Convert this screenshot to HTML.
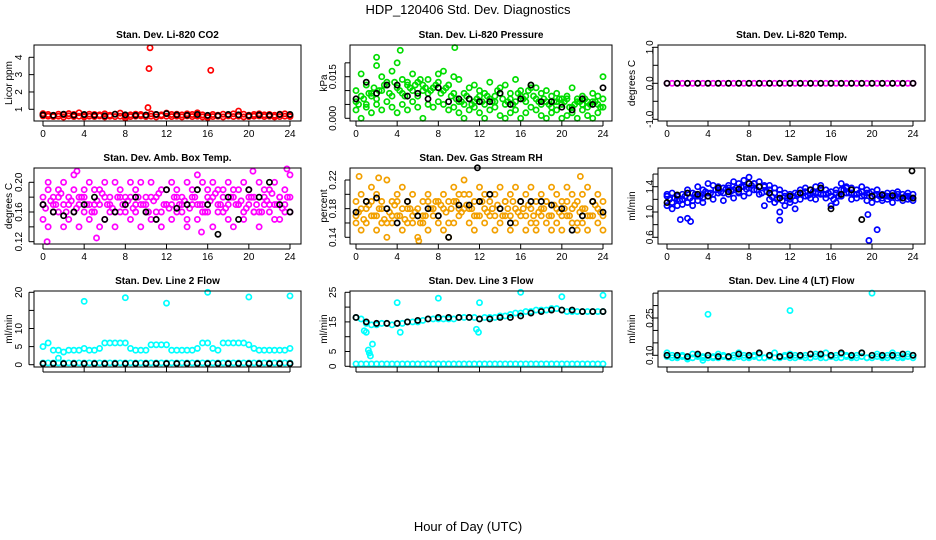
<!DOCTYPE html>
<html><head><meta charset="utf-8"><style>
html,body{margin:0;padding:0;background:#fff;}
svg{display:block;font-family:"Liberation Sans",sans-serif;}
</style></head><body>
<svg id="c" width="936" height="540" viewBox="0 0 936 540">
<text x="468" y="14" text-anchor="middle" font-size="13">HDP_120406  Std. Dev. Diagnostics</text>
<text x="468" y="531" text-anchor="middle" font-size="13">Hour of Day (UTC)</text>
</svg>
<script>
const hours49=[0,0.5,1,1.5,2,2.5,3,3.5,4,4.5,5,5.5,6,6.5,7,7.5,8,8.5,9,9.5,10,10.5,11,11.5,12,12.5,13,13.5,14,14.5,15,15.5,16,16.5,17,17.5,18,18.5,19,19.5,20,20.5,21,21.5,22,22.5,23,23.5,24];
const hours25=[0,1,2,3,4,5,6,7,8,9,10,11,12,13,14,15,16,17,18,19,20,21,22,23,24];
const hoursQ=[0.25,0.75,1.25,1.75,2.25,2.75,3.25,3.75,4.25,4.75,5.25,5.75,6.25,6.75,7.25,7.75,8.25,8.75,9.25,9.75,10.25,10.75,11.25,11.75,12.25,12.75,13.25,13.75,14.25,14.75,15.25,15.75,16.25,16.75,17.25,17.75,18.25,18.75,19.25,19.75,20.25,20.75,21.25,21.75,22.25,22.75,23.25,23.75];
const xTicks=[0,4,8,12,16,20,24];

// Panel 1 CO2
const co2RedA=[0.75,0.7,0.65,0.72,0.68,0.75,0.7,0.8,0.66,0.72,0.7,0.68,0.74,0.66,0.72,0.78,0.6,0.68,0.72,0.7,0.66,0.74,0.7,0.68,0.78,0.7,0.72,0.68,0.74,0.7,0.8,0.68,0.6,0.7,0.66,0.72,0.68,0.74,0.9,0.72,0.66,0.7,0.74,0.68,0.7,0.66,0.72,0.74,0.62];
const co2RedB=[0.62,0.6,0.58,0.6,0.55,0.62,0.58,0.6,0.56,0.6,0.58,0.62,0.56,0.6,0.58,0.6,0.5,0.58,0.6,0.62,0.58,0.6,0.56,0.62,0.6,0.58,0.6,0.56,0.62,0.58,0.6,0.56,0.52,0.58,0.6,0.56,0.62,0.58,0.6,0.56,0.58,0.6,0.62,0.58,0.6,0.56,0.58,0.6,0.58];
const co2OutX=[10.4,10.3,16.3,10.2];
const co2OutY=[4.55,3.35,3.25,1.1];
const co2Black=[0.68,0.65,0.72,0.66,0.7,0.65,0.62,0.72,0.68,0.65,0.67,0.7,0.75,0.68,0.66,0.7,0.65,0.64,0.7,0.68,0.64,0.68,0.66,0.7,0.7];

// Panel 2 Pressure
const presA=[0.006,0.008,0.005,0.009,0.007,0.010,0.012,0.008,0.011,0.009,0.013,0.010,0.008,0.012,0.009,0.011,0.013,0.010,0.012,0.009,0.006,0.005,0.007,0.006,0.008,0.005,0.007,0.006,0.009,0.005,0.007,0.006,0.008,0.006,0.011,0.007,0.005,0.006,0.004,0.006,0.005,0.007,0.004,0.006,0.005,0.004,0.006,0.005,0.007];
const presB=[0.010,0.016,0.012,0.008,0.019,0.015,0.013,0.017,0.020,0.014,0.012,0.016,0.013,0.010,0.014,0.011,0.016,0.017,0.012,0.015,0.014,0.009,0.011,0.012,0.010,0.009,0.013,0.008,0.011,0.012,0.009,0.014,0.010,0.008,0.012,0.011,0.009,0.010,0.008,0.009,0.007,0.008,0.011,0.007,0.008,0.006,0.009,0.008,0.015];
const presC=[0.003,0.000,0.004,0.002,0.005,0.003,0.006,0.004,0.002,0.005,0.003,0.006,0.004,0.000,0.005,0.004,0.006,0.005,0.003,0.004,0.002,0.000,0.003,0.004,0.002,0.000,0.003,0.004,0.001,0.000,0.002,0.003,0.000,0.002,0.004,0.003,0.001,0.000,0.002,0.003,0.000,0.001,0.002,0.000,0.003,0.001,0.000,0.002,0.004];
const presD=[0.005,0.007,0.009,0.011,0.010,0.012,0.009,0.013,0.010,0.008,0.011,0.012,0.014,0.011,0.010,0.012,0.009,0.011,0.008,0.007,0.006,0.008,0.005,0.007,0.006,0.008,0.006,0.010,0.007,0.006,0.005,0.009,0.007,0.010,0.008,0.006,0.007,0.005,0.006,0.007,0.006,0.004,0.005,0.006,0.007,0.005,0.006,0.004];
const presOutX=[9.6,4.3,2.0];
const presOutY=[0.0255,0.0245,0.022];
const presBlack=[0.007,0.013,0.009,0.012,0.012,0.008,0.009,0.007,0.011,0.006,0.007,0.007,0.006,0.006,0.009,0.005,0.007,0.012,0.006,0.006,0.004,0.003,0.007,0.005,0.011];

// Panel 3 Temp
const tempMag=[0,0,0,0,0,0,0,0,0,0,0,0,0,0,0,0,0,0,0,0,0,0,0,0,0,0,0,0,0,0,0,0,0,0,0,0,0,0,0,0,0,0,0,0,0,0,0,0,0];
const tempBlack=[0,0,0,0,0,0,0,0,0,0,0,0,0,0,0,0,0,0,0,0,0,0,0,0,0];

// Panel 4 Amb box temp
const ambA=[0.17,0.19,0.16,0.18,0.17,0.15,0.19,0.18,0.16,0.17,0.19,0.17,0.15,0.18,0.16,0.19,0.17,0.18,0.16,0.20,0.17,0.15,0.18,0.16,0.19,0.17,0.16,0.18,0.15,0.19,0.17,0.20,0.16,0.18,0.17,0.19,0.15,0.18,0.17,0.16,0.19,0.18,0.16,0.17,0.19,0.15,0.18,0.17,0.18];
const ambB=[0.15,0.14,0.18,0.16,0.14,0.18,0.16,0.14,0.19,0.15,0.17,0.14,0.18,0.16,0.14,0.16,0.18,0.15,0.17,0.14,0.16,0.18,0.15,0.14,0.17,0.15,0.18,0.16,0.14,0.17,0.15,0.16,0.18,0.14,0.19,0.16,0.17,0.14,0.19,0.15,0.17,0.16,0.14,0.18,0.16,0.17,0.15,0.19,0.16];
const ambC=[0.18,0.20,0.17,0.19,0.20,0.17,0.21,0.17,0.18,0.20,0.16,0.19,0.20,0.17,0.20,0.18,0.16,0.20,0.19,0.17,0.18,0.20,0.16,0.19,0.17,0.20,0.19,0.17,0.20,0.18,0.21,0.17,0.19,0.20,0.16,0.18,0.20,0.19,0.17,0.20,0.18,0.16,0.20,0.19,0.17,0.20,0.18,0.16,0.21];
const ambD=[0.165,0.175,0.17,0.185,0.16,0.175,0.165,0.18,0.17,0.16,0.175,0.185,0.17,0.165,0.18,0.17,0.175,0.165,0.18,0.17,0.16,0.175,0.185,0.17,0.165,0.18,0.17,0.175,0.165,0.18,0.17,0.16,0.175,0.185,0.17,0.165,0.18,0.17,0.175,0.165,0.18,0.17,0.16,0.175,0.185,0.17,0.165,0.18];
const ambOutX=[0.4,5.2,3.3,20.4,23.7,15.4];
const ambOutY=[0.12,0.125,0.215,0.215,0.218,0.133];
const ambBlack=[0.17,0.16,0.155,0.16,0.17,0.18,0.15,0.16,0.17,0.18,0.16,0.15,0.19,0.165,0.17,0.19,0.17,0.13,0.18,0.15,0.19,0.18,0.20,0.17,0.16];

// Panel 5 Gas stream RH
const rhA=[0.17,0.18,0.16,0.19,0.17,0.18,0.16,0.17,0.19,0.18,0.16,0.17,0.18,0.17,0.19,0.18,0.17,0.18,0.16,0.19,0.18,0.20,0.18,0.17,0.19,0.18,0.20,0.17,0.18,0.19,0.17,0.18,0.19,0.17,0.18,0.16,0.18,0.19,0.17,0.18,0.17,0.19,0.18,0.16,0.18,0.17,0.19,0.18,0.17];
const rhB=[0.16,0.15,0.18,0.17,0.15,0.16,0.14,0.16,0.17,0.15,0.18,0.16,0.14,0.16,0.15,0.17,0.16,0.15,0.14,0.16,0.17,0.18,0.16,0.15,0.17,0.16,0.17,0.15,0.16,0.17,0.15,0.16,0.17,0.15,0.16,0.15,0.17,0.16,0.15,0.16,0.15,0.17,0.16,0.15,0.16,0.15,0.17,0.16,0.15];
const rhC=[0.19,0.20,0.19,0.21,0.20,0.19,0.22,0.19,0.20,0.21,0.19,0.20,0.17,0.19,0.20,0.18,0.19,0.20,0.19,0.21,0.20,0.22,0.20,0.19,0.21,0.20,0.19,0.20,0.21,0.19,0.20,0.21,0.19,0.20,0.21,0.19,0.20,0.19,0.21,0.20,0.19,0.21,0.20,0.19,0.20,0.21,0.19,0.20,0.19];
const rhD=[0.175,0.165,0.185,0.17,0.18,0.165,0.175,0.185,0.17,0.165,0.18,0.175,0.16,0.17,0.18,0.19,0.185,0.175,0.18,0.19,0.175,0.185,0.18,0.17,0.19,0.175,0.18,0.185,0.17,0.18,0.19,0.175,0.18,0.185,0.17,0.175,0.18,0.17,0.185,0.175,0.18,0.17,0.185,0.175,0.18,0.17,0.185,0.175];
const rhOutX=[0.3,6.1,21.8,2.2];
const rhOutY=[0.225,0.135,0.225,0.223];
const rhBlack=[0.175,0.19,0.195,0.18,0.16,0.19,0.17,0.18,0.17,0.14,0.185,0.185,0.19,0.20,0.18,0.16,0.19,0.19,0.19,0.185,0.18,0.15,0.17,0.19,0.175];
const rhBlackOutX=[11.8];
const rhBlackOutY=[0.237];

// Panel 6 Sample flow
const flowA=[1.25,1.15,1.10,1.20,1.15,1.18,1.25,1.22,1.30,1.28,1.35,1.30,1.38,1.35,1.32,1.40,1.38,1.45,1.40,1.42,1.35,1.30,1.28,1.25,1.20,1.18,1.30,1.32,1.28,1.30,1.35,1.28,1.25,1.30,1.35,1.38,1.30,1.28,1.32,1.35,1.25,1.28,1.22,1.25,1.24,1.28,1.22,1.25,1.22];
const flowB=[1.10,1.05,1.20,1.12,0.90,1.10,1.18,1.15,1.25,1.20,1.30,1.18,1.28,1.22,1.30,1.25,1.30,1.35,1.28,1.10,1.20,1.15,1.00,1.10,1.15,1.05,1.20,1.25,1.22,1.20,1.28,1.22,1.10,1.15,1.25,1.30,1.20,1.22,1.25,1.18,1.15,1.20,1.18,1.20,1.15,1.22,1.18,1.20,1.18];
const flowC=[1.28,1.30,1.25,1.28,1.35,1.30,1.40,1.35,1.45,1.42,1.40,1.38,1.42,1.48,1.45,1.50,1.55,1.45,1.48,1.40,1.42,1.38,1.35,1.30,1.28,1.30,1.35,1.38,1.35,1.40,1.42,1.35,1.32,1.35,1.45,1.40,1.38,1.35,1.40,1.30,1.32,1.35,1.28,1.30,1.30,1.32,1.28,1.30,1.28];
const flowD=[1.2,1.22,1.18,1.25,1.22,1.28,1.25,1.32,1.3,1.35,1.32,1.36,1.33,1.38,1.4,1.36,1.42,1.35,1.3,1.32,1.24,1.2,1.18,1.22,1.25,1.28,1.3,1.26,1.32,1.3,1.28,1.3,1.2,1.25,1.35,1.3,1.28,1.3,1.26,1.3,1.27,1.25,1.26,1.24,1.26,1.23,1.25,1.22];
const flowOutX=[1.3,2.3,19.7,20.5,19.6,11.0];
const flowOutY=[0.88,0.85,0.55,0.72,0.96,0.87];
const flowBlack=[1.15,1.27,1.30,1.28,1.25,1.38,1.32,1.36,1.45,1.40,1.30,1.22,1.25,1.30,1.35,1.38,1.05,1.28,1.35,0.88,1.25,1.27,1.26,1.22,1.22];
const flowBlackOutX=[23.9];
const flowBlackOutY=[1.65];

// Panel 7 Line 2 flow
const l2Band=[5,6,4,4,3.5,4,4,4,4.5,4,4,4.5,6,6,6,6,6,4.5,4,4,4,5.5,5.5,5.5,5.5,4,4,4,4,4,4.5,6,6,4.5,4,6,6,6,6,6,5.5,4.5,4,4,4,4,4,4,4.5];
const l2Zero=[0.5,0.5,0.5,0.5,0.5,0.5,0.5,0.5,0.5,0.5,0.5,0.5,0.5,0.5,0.5,0.5,0.5,0.5,0.5,0.5,0.5,0.5,0.5,0.5,0.5,0.5,0.5,0.5,0.5,0.5,0.5,0.5,0.5,0.5,0.5,0.5,0.5,0.5,0.5,0.5,0.5,0.5,0.5,0.5,0.5,0.5,0.5,0.5,0.5];
const l2OutX=[4,8,12,16,20,24,1.5];
const l2OutY=[17.5,18.5,17,20,18.7,19,1.8];
const l2Black=[0.3,0.3,0.3,0.3,0.3,0.3,0.3,0.3,0.3,0.3,0.3,0.3,0.3,0.3,0.3,0.3,0.3,0.3,0.3,0.3,0.3,0.3,0.3,0.3,0.3];

// Panel 8 Line 3 flow
const l3Band=[16.5,16,14.5,14,14,14.5,14.5,14,14.5,14.5,15,15,15,15.5,16,16,16,16,16,16,16.5,16.5,16.5,16.5,16,16.5,16.5,16.5,17,17,17.5,18,18,18.5,18.5,19,19,19,19.5,19.5,19,18.5,18.5,18.5,18.5,18.5,18.5,18.5,18.5];
const l3Zero=[0.8,0.8,0.8,0.8,0.8,0.8,0.8,0.8,0.8,0.8,0.8,0.8,0.8,0.8,0.8,0.8,0.8,0.8,0.8,0.8,0.8,0.8,0.8,0.8,0.8,0.8,0.8,0.8,0.8,0.8,0.8,0.8,0.8,0.8,0.8,0.8,0.8,0.8,0.8,0.8,0.8,0.8,0.8,0.8,0.8,0.8,0.8,0.8,0.8];
const l3OutX=[4,1.2,1.4,1.6,1.3,1.0,8,12,11.7,11.9,4.3,16,20,24,0.8];
const l3OutY=[21.5,5.5,3.5,7.5,4.5,11.5,23,21.5,12.5,11.5,11.5,25,23.5,24,12];
const l3Black=[16.5,15,14.5,14.5,14.5,15,15.5,16,16.5,16.5,16.5,16.5,16,16,16.5,16.5,17,18,18.5,19,19,19,18.5,18.5,18.5];

// Panel 9 Line 4 flow
const l4Band=[0.11,0.10,0.095,0.10,0.09,0.105,0.10,0.095,0.10,0.09,0.105,0.10,0.095,0.10,0.11,0.10,0.095,0.10,0.105,0.09,0.10,0.11,0.095,0.10,0.105,0.10,0.095,0.10,0.09,0.105,0.10,0.11,0.095,0.10,0.105,0.10,0.095,0.10,0.11,0.09,0.10,0.105,0.095,0.10,0.11,0.10,0.095,0.105,0.10];
const l4Low=[0.095,0.09,0.09,0.095,0.085,0.09,0.095,0.09,0.09,0.095,0.09,0.095,0.09,0.09,0.095,0.09,0.09,0.095,0.09,0.09,0.095,0.09,0.09,0.095,0.09,0.09,0.095,0.09,0.09,0.095,0.09,0.09,0.095,0.09,0.09,0.095,0.09,0.09,0.095,0.09,0.09,0.095,0.09,0.09,0.095,0.09,0.09,0.095,0.09];
const l4OutX=[4,12,20,3.5];
const l4OutY=[0.265,0.28,0.35,0.08];
const l4Black=[0.10,0.10,0.095,0.105,0.10,0.095,0.095,0.105,0.10,0.11,0.10,0.095,0.10,0.10,0.105,0.105,0.10,0.11,0.10,0.11,0.10,0.10,0.10,0.105,0.10];

const yTicks1=[1,2,3,4], yLab1=["1","2","3","4"];
const yTicks2=[0,0.005,0.01,0.015,0.02], yLab2=["0.000","","","0.015",""];
const yTicks3=[-1,-0.5,0,0.5,1], yLab3=["-1.0","","0.0","","1.0"];
const yTicks4=[0.12,0.14,0.16,0.18,0.2], yLab4=["0.12","","0.16","","0.20"];
const yTicks5=[0.14,0.16,0.18,0.2,0.22], yLab5=["0.14","","0.18","","0.22"];
const yTicks6=[0.6,0.8,1.0,1.2,1.4,1.6], yLab6=["0.6","","1.0","","1.4",""];
const yTicks7=[0,5,10,15,20], yLab7=["0","5","10","","20"];
const yTicks8=[0,5,10,15,20,25], yLab8=["0","5","","15","","25"];
const yTicks9=[0.1,0.15,0.2,0.25,0.3,0.35], yLab9=["0.10","","","0.25","",""];

const NS="http://www.w3.org/2000/svg";
const svg=document.getElementById('c');
function mk(tag,attrs,parent){const e=document.createElementNS(NS,tag);for(const k in attrs)e.setAttribute(k,attrs[k]);(parent||svg).appendChild(e);return e;}

const cols=[{bl:34,br:301,x0:43,x24:290,lab:18,tit:8},{bl:350,br:612,x0:356,x24:603,lab:332,tit:323},{bl:658,br:925,x0:667,x24:913,lab:649,tit:631}];
const rows=[{bt:45,bb:121},{bt:168,bb:244},{bt:291,bb:367}];

function panel(o){
  const c=cols[o.col], r=rows[o.row];
  const g=mk('g',{});
  
  
  const xs=v=>c.x0+(c.x24-c.x0)*v/24;
  const ys=v=>o.pA+(o.pB-o.pA)*(v-o.vA)/(o.vB-o.vA);
  const t=mk('text',{x:(c.bl+c.br)/2,y:r.bt-7,'text-anchor':'middle','font-size':'10','font-weight':'bold'},g);
  t.textContent=o.title;
  
  
  const yt=mk('text',{transform:`translate(${c.tit+4},${(r.bt+r.bb)/2}) rotate(-90)`,'text-anchor':'middle','font-size':'10'},g);
  yt.textContent=o.ylab;
  
  
  o.yt.forEach((v,i)=>{const y=ys(v);
    mk('line',{x1:c.bl-5,x2:c.bl,y1:y,y2:y,stroke:'#000','stroke-width':1},g);
    if(o.yl[i]){const l=mk('text',{transform:`translate(${c.lab+4},${y}) rotate(-90)`,'text-anchor':'middle','font-size':'10'},g);l.textContent=o.yl[i];
      
      }
  });
  mk('line',{x1:c.bl-5,x2:c.bl-5,y1:ys(o.yt[0]),y2:ys(o.yt[o.yt.length-1]),stroke:'#000'},g);
  xTicks.forEach(v=>{const x=xs(v);
    mk('line',{x1:x,x2:x,y1:r.bb,y2:r.bb+5,stroke:'#000'},g);
    if(o.row<2){const l=mk('text',{x:x,y:r.bb+16,'text-anchor':'middle','font-size':'10'},g);l.textContent=String(v);
      
      }
  });
  mk('line',{x1:xs(0),x2:xs(24),y1:r.bb+5,y2:r.bb+5,stroke:'#000'},g);
  const pts=mk('g',{fill:'none','stroke-width':1.7},g);
  
  
  o.series.forEach(s=>{
    s.y.forEach((v,i)=>{
      mk('circle',{cx:xs(s.x[i]),cy:ys(v),r:2.6,stroke:s.c},pts);});
  });
  const b=mk('rect',{x:c.bl,y:r.bt,width:c.br-c.bl,height:r.bb-r.bt,fill:'none',stroke:'#000','stroke-width':1},g);
  
  
}
const RED='#ff0000',GRN='#00dd00',MAG='#ff00ff',ORG='#f2a000',BLU='#0000ff',CYN='#00ffff',BLK='#000';
panel({name:'panel-co2',col:0,row:0,title:'Stan. Dev. Li-820 CO2',ylab:'Licor ppm',vA:1,pA:109.3,vB:4,pB:57.3,yt:yTicks1,yl:yLab1,
 series:[{x:hours49,y:co2RedA,c:RED},{x:hours49,y:co2RedB,c:RED},{x:co2OutX,y:co2OutY,c:RED},{x:hours25,y:co2Black,c:BLK}]});
panel({name:'panel-pressure',col:1,row:0,title:'Stan. Dev. Li-820 Pressure',ylab:'kPa',vA:0,pA:118.3,vB:0.015,pB:76.7,yt:yTicks2,yl:yLab2,
 series:[{x:hours49,y:presA,c:GRN},{x:hours49,y:presB,c:GRN},{x:hours49,y:presC,c:GRN},{x:hoursQ,y:presD,c:GRN},{x:presOutX,y:presOutY,c:GRN},{x:hours25,y:presBlack,c:BLK}]});
panel({name:'panel-temp',col:2,row:0,title:'Stan. Dev. Li-820 Temp.',ylab:'degrees C',vA:0,pA:83.3,vB:1,pB:47.3,yt:yTicks3,yl:yLab3,
 series:[{x:hours49,y:tempMag,c:MAG},{x:hours25,y:tempBlack,c:BLK}]});
panel({name:'panel-amb-temp',col:0,row:1,title:'Stan. Dev. Amb. Box Temp.',ylab:'degrees C',vA:0.12,pA:241.7,vB:0.2,pB:182.3,yt:yTicks4,yl:yLab4,
 series:[{x:hours49,y:ambA,c:MAG},{x:hours49,y:ambB,c:MAG},{x:hours49,y:ambC,c:MAG},{x:hoursQ,y:ambD,c:MAG},{x:ambOutX,y:ambOutY,c:MAG},{x:hours25,y:ambBlack,c:BLK}]});
panel({name:'panel-rh',col:1,row:1,title:'Stan. Dev. Gas Stream RH',ylab:'percent',vA:0.14,pA:237.3,vB:0.22,pB:180,yt:yTicks5,yl:yLab5,
 series:[{x:hours49,y:rhA,c:ORG},{x:hours49,y:rhB,c:ORG},{x:hours49,y:rhC,c:ORG},{x:hoursQ,y:rhD,c:ORG},{x:rhOutX,y:rhOutY,c:ORG},{x:hours25,y:rhBlack,c:BLK},{x:rhBlackOutX,y:rhBlackOutY,c:BLK}]});
panel({name:'panel-sample-flow',col:2,row:1,title:'Stan. Dev. Sample Flow',ylab:'ml/min',vA:0.6,pA:237.3,vB:1.4,pB:186.7,yt:yTicks6,yl:yLab6,
 series:[{x:hours49,y:flowA,c:BLU},{x:hours49,y:flowB,c:BLU},{x:hours49,y:flowC,c:BLU},{x:hoursQ,y:flowD,c:BLU},{x:flowOutX,y:flowOutY,c:BLU},{x:hours25,y:flowBlack,c:BLK},{x:flowBlackOutX,y:flowBlackOutY,c:BLK}]});
panel({name:'panel-line2',col:0,row:2,title:'Stan. Dev. Line 2 Flow',ylab:'ml/min',vA:0,pA:364.7,vB:20,pB:292.3,yt:yTicks7,yl:yLab7,
 series:[{x:hours49,y:l2Band,c:CYN},{x:hours49,y:l2Zero,c:CYN},{x:l2OutX,y:l2OutY,c:CYN},{x:hours25,y:l2Black,c:BLK}]});
panel({name:'panel-line3',col:1,row:2,title:'Stan. Dev. Line 3 Flow',ylab:'ml/min',vA:0,pA:366.3,vB:25,pB:292.3,yt:yTicks8,yl:yLab8,
 series:[{x:hours49,y:l3Band,c:CYN},{x:hours49,y:l3Zero,c:CYN},{x:l3OutX,y:l3OutY,c:CYN},{x:hours25,y:l3Black,c:BLK}]});
panel({name:'panel-line4',col:2,row:2,title:'Stan. Dev. Line 4 (LT) Flow',ylab:'ml/min',vA:0.1,pA:355.3,vB:0.25,pB:318,yt:yTicks9,yl:yLab9,
 series:[{x:hours49,y:l4Band,c:CYN},{x:hours49,y:l4Low,c:CYN},{x:l4OutX,y:l4OutY,c:CYN},{x:hours25,y:l4Black,c:BLK}]});
</script>
</body></html>
